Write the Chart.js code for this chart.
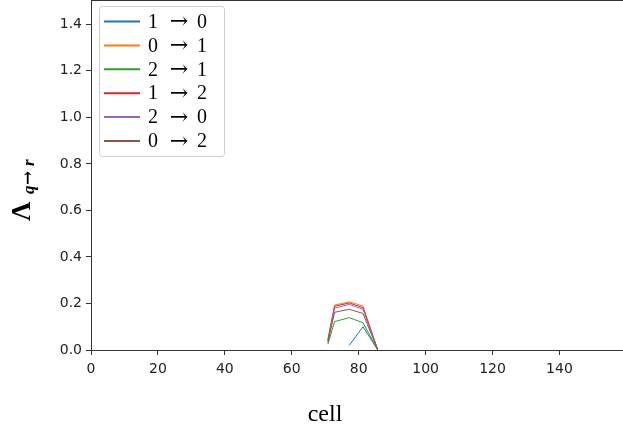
<!DOCTYPE html>
<html>
<head>
<meta charset="utf-8">
<script src="https://cdn.jsdelivr.net/npm/chart.js@4.4.1/dist/chart.umd.min.js"></script>
<style>
  html, body { margin: 0; padding: 0; background: #fff; }
  #wrap { width: 623px; height: 437px; position: relative; }
</style>
</head>
<body>
<div id="wrap"><canvas id="chart1"></canvas></div>
<script>
// cell positions where the rates are non-zero
const cells = [70.8, 72.8, 77.2, 81.3, 85.7];

// transition rates per cell, one list per transition
const rate10 = [null, null, 0.02, 0.10, 0.0];
const rate01 = [0.045, 0.193, 0.207, 0.189, 0.0];
const rate21 = [0.025, 0.122, 0.139, 0.117, 0.0];
const rate12 = [0.042, 0.188, 0.202, 0.182, 0.0];
const rate20 = [0.038, 0.180, 0.196, 0.175, 0.0];
const rate02 = [0.032, 0.162, 0.175, 0.157, 0.0];

const labels = ["1 → 0", "0 → 1", "2 → 1", "1 → 2", "2 → 0", "0 → 2"];
const colors = ["#1f77b4", "#ff7f0e", "#2ca02c", "#d62728", "#9467bd", "#8c564b"];
const series = [rate10, rate01, rate21, rate12, rate20, rate02];

const xTicks = [0, 20, 40, 60, 80, 100, 120, 140];
const yTicks = [0, 0.2, 0.4, 0.6, 0.8, 1.0, 1.2, 1.4];

const datasets = series.map((vals, i) => ({
    label: labels[i],
    data: vals.map((v, j) => ({ x: cells[j], y: v })),
    borderColor: colors[i],
    backgroundColor: colors[i],
    borderWidth: 1,
    pointRadius: 0,
    tension: 0,
    spanGaps: false,
    order: series.length - 1 - i
}));

const axisColor = "#333";

// legend box in the upper left corner of the plot
const legendBox = {
    id: "legendBox",
    afterDraw(chart) {
        const ctx = chart.ctx;
        ctx.save();
        const x0 = 99.5, y0 = 6.5, w = 125, h = 150, r = 3;
        ctx.fillStyle = "rgba(255,255,255,0.8)";
        ctx.strokeStyle = "#d0d0d0";
        ctx.lineWidth = 1;
        ctx.beginPath();
        ctx.roundRect(x0, y0, w, h, r);
        ctx.fill();
        ctx.stroke();
        chart.data.datasets.forEach((ds, i) => {
            const y = 21.5 + i * 23.9;
            ctx.strokeStyle = ds.borderColor;
            ctx.lineWidth = 2;
            ctx.beginPath();
            ctx.moveTo(104, y);
            ctx.lineTo(140, y);
            ctx.stroke();
            const parts = ds.label.split(" → ");
            ctx.fillStyle = "#000";
            ctx.font = "20px 'Liberation Serif'";
            ctx.textBaseline = "middle";
            ctx.textAlign = "left";
            ctx.fillText(parts[0], 148, y + 1);
            ctx.fillText(parts[1], 197, y + 1);
            ctx.textAlign = "center";
            ctx.font = "22px 'DejaVu Serif'";
            ctx.fillText("→", 179, y + 1);
        });
        ctx.restore();
    }
};

// top spine and axis titles
const frame = {
    id: "frame",
    afterDraw(chart) {
        const ctx = chart.ctx;
        const a = chart.chartArea;
        ctx.save();
        ctx.strokeStyle = axisColor;
        ctx.lineWidth = 1;
        ctx.beginPath();
        ctx.moveTo(a.left, a.top - 0.5);
        ctx.lineTo(a.right, a.top - 0.5);
        ctx.stroke();

        ctx.fillStyle = "#000";
        ctx.font = "24px 'Liberation Serif'";
        ctx.textAlign = "center";
        ctx.textBaseline = "alphabetic";
        ctx.fillText("cell", 325, 421);

        ctx.translate(30, 186);
        ctx.rotate(-Math.PI / 2);
        ctx.textAlign = "left";
        ctx.font = "bold 27px 'Liberation Serif'";
        ctx.fillText("Λ", -35, 0);
        ctx.font = "italic bold 17px 'Liberation Serif'";
        ctx.fillText("q", -8, 4);
        ctx.font = "bold 17px 'DejaVu Serif'";
        ctx.fillText("→", 1, 3);
        ctx.font = "italic bold 17px 'Liberation Serif'";
        ctx.fillText("r", 20, 4);
        ctx.restore();
    }
};

new Chart(
    document.getElementById("chart1"),
    {
        type: "line",
        data: { datasets: datasets },
        options: {
            responsive: true,
            maintainAspectRatio: false,
            animation: false,
            layout: { autoPadding: false, padding: { top: 1, right: 0, left: 0, bottom: 0 } },
            plugins: { legend: { display: false }, tooltip: { enabled: false } },
            scales: {
                x: {
                    type: "linear",
                    min: 0,
                    max: 159,
                    afterBuildTicks: (s) => { s.ticks = xTicks.map(v => ({ value: v })); },
                    afterFit: (s) => { s.height = 87; s.paddingLeft = 0; s.paddingRight = 0; },
                    border: { display: true, color: axisColor, width: 1 },
                    grid: { display: true, drawOnChartArea: false, drawTicks: true, tickLength: 5, color: axisColor },
                    ticks: {
                        color: "#222",
                        padding: 6,
                        maxRotation: 0,
                        font: { family: "DejaVu Sans", size: 14 },
                        callback: (v) => String(v)
                    }
                },
                y: {
                    min: 0,
                    max: 1.5,
                    afterBuildTicks: (s) => { s.ticks = yTicks.map(v => ({ value: v })); },
                    afterFit: (s) => { s.width = 91; s.paddingTop = 0; s.paddingBottom = 0; },
                    border: { display: true, color: axisColor, width: 1 },
                    grid: { display: true, drawOnChartArea: false, drawTicks: true, tickLength: 5, color: axisColor },
                    ticks: {
                        color: "#222",
                        padding: 4,
                        font: { family: "DejaVu Sans", size: 14 },
                        callback: (v) => v.toFixed(1)
                    }
                }
            }
        },
        plugins: [legendBox, frame]
    }
);
</script>
</body>
</html>
